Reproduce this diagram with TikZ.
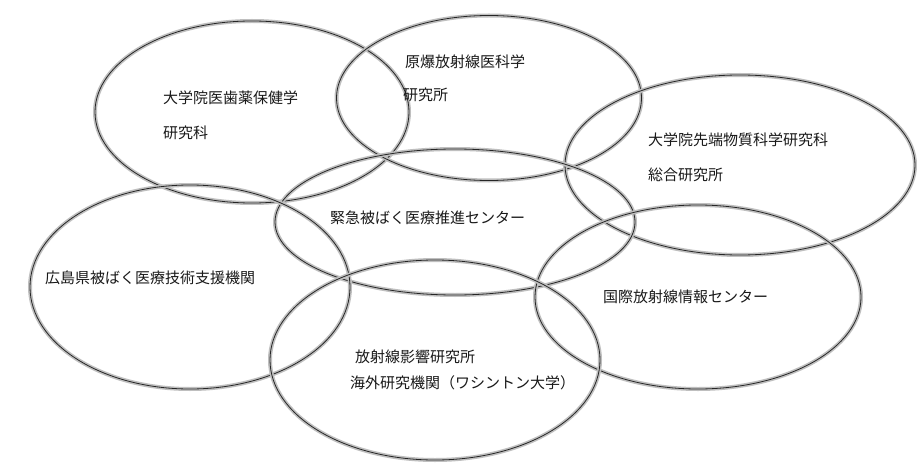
\documentclass[tikz,border=0pt]{standalone}
\usepackage{fontspec}
\setmainfont{Noto Sans CJK JP}
\usetikzlibrary{shapes.geometric}
\begin{document}
\begin{tikzpicture}[x=1pt,y=-1pt,
  ring/.style={ellipse, inner sep=0pt,
    preaction={draw=black!25, line width=4pt},
    draw=black!85, line width=0.8pt},
  lbl/.style={anchor=west, font=\fontsize{15}{17}\selectfont, text=black!90, inner sep=0pt, align=left}]
\useasboundingbox (0,0) rectangle (917,465);
\fill[white] (0,0) rectangle (917,465);
\node[ring, minimum width=314pt, minimum height=182pt] (e1) at (252,112) {};
\node[ring, minimum width=305pt, minimum height=165pt] (e2) at (489,98) {};
\node[ring, minimum width=350pt, minimum height=180pt] (e3) at (740,165) {};
\node[ring, minimum width=360pt, minimum height=146pt] (e4) at (455,222) {};
\node[ring, minimum width=320pt, minimum height=204pt] (e5) at (190,287) {};
\node[ring, minimum width=326pt, minimum height=184pt] (e6) at (698,297) {};
\node[ring, minimum width=330pt, minimum height=200pt] (e7) at (435,360) {};
\node[lbl] (t1a) at (163,98) {大学院医歯薬保健学};
\node[lbl] (t1b) at (163,133) {研究科};
\node[lbl] (t2a) at (405,62) {原爆放射線医科学};
\node[lbl] (t2b) at (403,95) {研究所};
\node[lbl] (t3a) at (648,140) {大学院先端物質科学研究科};
\node[lbl] (t3b) at (648,175) {総合研究所};
\node[lbl] (t4) at (330,218) {緊急被ばく医療推進センター};
\node[lbl] (t5) at (45,278) {広島県被ばく医療技術支援機関};
\node[lbl] (t6) at (603,297) {国際放射線情報センター};
\node[lbl] (t7a) at (355,357) {放射線影響研究所};
\node[lbl] (t7b) at (350,383) {海外研究機関（ワシントン大学）};
\end{tikzpicture}
\end{document}
